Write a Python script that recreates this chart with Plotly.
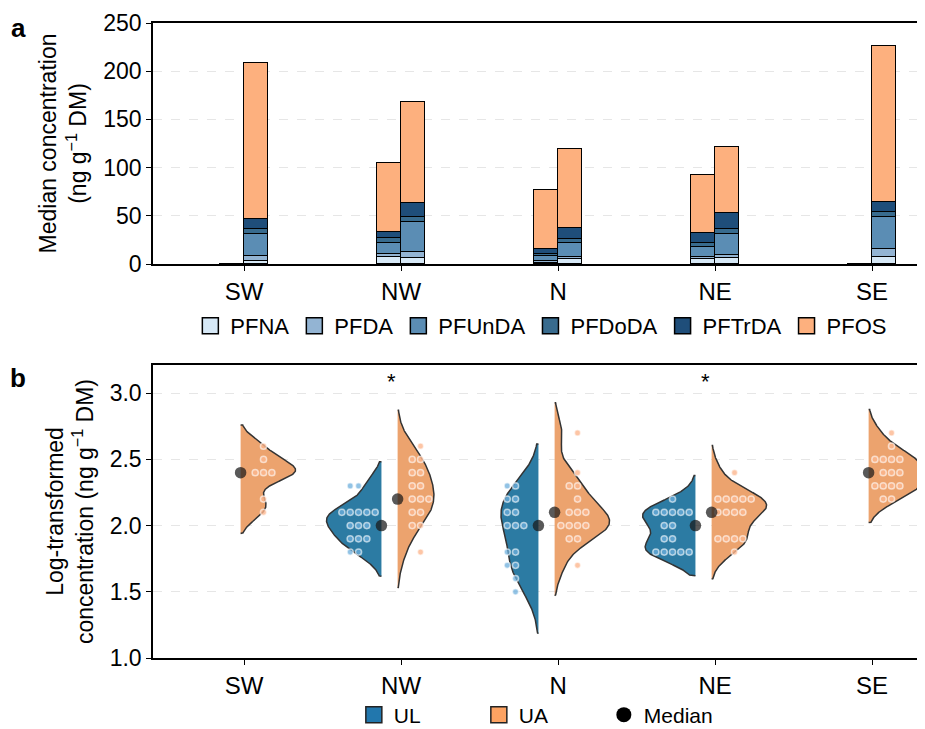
import numpy as np
import plotly.graph_objects as go

# ---------------- data ----------------
regions = ["SW", "NW", "N", "NE", "SE"]
compounds = ["PFNA", "PFDA", "PFUnDA", "PFDoDA", "PFTrDA", "PFOS"]

# Panel a: median concentrations (ng g-1 DM), per region
UL_PFNA = [0, 6.9, 1.5, 4.9, 0]
UL_PFDA = [0, 3.1, 1.5, 2.7, 0]
UL_PFUnDA = [0, 12.1, 5.0, 10.4, 0]
UL_PFDoDA = [0, 4.5, 2.5, 4.1, 0]
UL_PFTrDA = [0, 6.6, 4.7, 9.7, 0]
UL_PFOS = [0, 71.9, 61.6, 60.5, 0]

UA_PFNA = [3.4, 5.9, 5.2, 5.9, 6.9]
UA_PFDA = [5.2, 6.2, 2.4, 3.4, 9.0]
UA_PFUnDA = [22.5, 31.1, 14.5, 21.5, 32.5]
UA_PFDoDA = [5.2, 5.8, 3.9, 5.5, 5.2]
UA_PFTrDA = [10.4, 14.0, 11.7, 16.3, 11.0]
UA_PFOS = [161.5, 105.4, 81.9, 69.1, 161.9]

# Panel b: log-transformed concentrations
ul_SW = []
ul_NW = [2.3, 2.3, 2.1, 2.1, 2.1, 2.1, 2.1, 2.0, 2.0, 2.0, 1.9, 1.9, 1.9, 1.8, 1.8]
ul_N = [2.3, 2.3, 2.2, 2.2, 2.1, 2.1, 2.0, 2.0, 2.0, 1.8, 1.8, 1.7, 1.7, 1.6, 1.5]
ul_NE = [2.2, 2.1, 2.1, 2.1, 2.1, 2.1, 2.0, 2.0, 1.9, 1.9, 1.8, 1.8, 1.8, 1.8, 1.8]
ul_SE = []

ua_SW = [2.6, 2.5, 2.4, 2.4, 2.4, 2.2, 2.1]
ua_NW = [2.6, 2.5, 2.5, 2.4, 2.4, 2.3, 2.3, 2.2, 2.2, 2.2, 2.1, 2.1, 2.0, 2.0, 1.8]
ua_N = [2.7, 2.4, 2.3, 2.3, 2.2, 2.1, 2.1, 2.1, 2.0, 2.0, 2.0, 2.0, 1.9, 1.9, 1.7]
ua_NE = [2.4, 2.2, 2.2, 2.2, 2.2, 2.2, 2.1, 2.1, 2.1, 2.1, 1.9, 1.9, 1.9, 1.9, 1.8]
ua_SE = [2.7, 2.6, 2.5, 2.5, 2.5, 2.5, 2.4, 2.4, 2.4, 2.3, 2.3, 2.3, 2.3, 2.2, 2.2]

significance = ["", "*", "", "*", ""]

# ---------------- styles ----------------
FONT = "Liberation Sans, Arial, sans-serif"
comp_colors = ["#d6e8f6", "#93b4d3", "#5b8db4", "#386b8e", "#1f4e7a", "#fdb07e"]
UL_VIOLIN = "#2c7ba3"
UA_VIOLIN = "#eca36e"
UL_LEG = "#2277ad"
UA_LEG = "#fca262"

UL_vals = [UL_PFNA, UL_PFDA, UL_PFUnDA, UL_PFDoDA, UL_PFTrDA, UL_PFOS]
UA_vals = [UA_PFNA, UA_PFDA, UA_PFUnDA, UA_PFDoDA, UA_PFTrDA, UA_PFOS]
ul_groups = [ul_SW, ul_NW, ul_N, ul_NE, ul_SE]
ua_groups = [ua_SW, ua_NW, ua_N, ua_NE, ua_SE]

idx = np.arange(len(regions))
BW = 0.153  # bar width

fig = go.Figure()

# ---------------- panel a ----------------
for k, comp in enumerate(compounds):
    fig.add_trace(go.Bar(
        x=idx - BW / 2, y=UL_vals[k], width=BW, name=comp,
        marker=dict(color=comp_colors[k], line=dict(color="black", width=1.5)),
        legendgroup=comp, showlegend=False, xaxis="x", yaxis="y",
        hovertemplate=comp + " UL: %{y}<extra></extra>"))
    fig.add_trace(go.Bar(
        x=idx + BW / 2, y=UA_vals[k], width=BW, name=comp,
        marker=dict(color=comp_colors[k], line=dict(color="black", width=1.5)),
        legendgroup=comp, showlegend=False, xaxis="x", yaxis="y",
        hovertemplate=comp + " UA: %{y}<extra></extra>"))
    # legend swatch
    fig.add_trace(go.Scatter(
        x=[None], y=[None], mode="markers", name=comp, legendgroup=comp,
        marker=dict(symbol="square", size=18, color=comp_colors[k],
                    line=dict(color="black", width=1.5)),
        legend="legend", xaxis="x", yaxis="y"))


# ---------------- panel b ----------------
def kde(vals):
    v = np.asarray(vals, dtype=float)
    n = len(v)
    sd = v.std(ddof=1)
    q1, q3 = np.percentile(v, [25, 75])
    a = min(sd, (q3 - q1) / 1.349) if (q3 - q1) > 0 else sd
    bw = 1.059 * a * n ** (-0.2)
    ys = np.linspace(v.min() - 2 * bw, v.max() + 2 * bw, 300)
    d = np.exp(-0.5 * ((ys[:, None] - v[None, :]) / bw) ** 2).sum(axis=1) / (n * bw * np.sqrt(2 * np.pi))
    return ys, d


HALF_W = 0.35
UL_EDGE = -0.125
UA_EDGE = -0.022
UL_DOTC = -0.271
UA_DOTC = 0.124
DOT_STEP = 0.053


def dot_positions(vals, center):
    xs, ys = [], []
    for val in sorted(set(vals), reverse=True):
        cnt = vals.count(val)
        for kk in range(cnt):
            xs.append(center + (kk - cnt // 2) * DOT_STEP)
            ys.append(val)
    return xs, ys


for i, reg in enumerate(regions):
    groups = [(ul_groups[i], -1, UL_EDGE, UL_DOTC, UL_VIOLIN,
               "rgba(110,175,220,0.75)", "UL"),
              (ua_groups[i], 1, UA_EDGE, UA_DOTC, UA_VIOLIN,
               "rgba(253,182,142,0.8)", "UA")]
    kdes = [kde(g[0]) if len(g[0]) > 1 else None for g in groups]
    dmax = max(k_[1].max() for k_ in kdes if k_ is not None)
    for (vals, sgn, edge, dotc, vcol, dcol, lab), kd in zip(groups, kdes):
        if kd is None:
            continue
        ys, d = kd
        e = i + edge
        xs = e + sgn * HALF_W * d / dmax
        px = np.concatenate([[e], xs, [e]])
        py = np.concatenate([[ys[0]], ys, [ys[-1]]])
        fig.add_trace(go.Scatter(
            x=px, y=py, mode="lines", fill="toself", fillcolor=vcol,
            line=dict(color="#333333", width=1.5), showlegend=False,
            hoverinfo="skip", xaxis="x2", yaxis="y2"))
        dx, dy = dot_positions(vals, i + dotc)
        fig.add_trace(go.Scatter(
            x=dx, y=dy, mode="markers", showlegend=False,
            marker=dict(size=6.2, color=dcol, line=dict(color="rgba(255,255,255,0.6)", width=1.5)),
            xaxis="x2", yaxis="y2", hovertemplate=lab + ": %{y}<extra></extra>"))
        fig.add_trace(go.Scatter(
            x=[e], y=[float(np.median(vals))], mode="markers", showlegend=False,
            marker=dict(size=11.5, color="rgba(25,25,25,0.72)"),
            xaxis="x2", yaxis="y2", hovertemplate="Median: %{y}<extra></extra>"))

# significance stars
for i, s in enumerate(significance):
    if s:
        fig.add_annotation(x=i - 0.06, y=3.085, xref="x2", yref="y2", text=s,
                           showarrow=False, font=dict(size=22, color="black", family=FONT))

# legend 2 entries
fig.add_trace(go.Scatter(x=[None], y=[None], name="UL", mode="markers",
                         marker=dict(symbol="square", size=18, color=UL_LEG, line=dict(color="#222", width=1.5)),
                         legend="legend2", xaxis="x2", yaxis="y2"))
fig.add_trace(go.Scatter(x=[None], y=[None], name="UA", mode="markers",
                         marker=dict(symbol="square", size=18, color=UA_LEG, line=dict(color="#222", width=1.5)),
                         legend="legend2", xaxis="x2", yaxis="y2"))
fig.add_trace(go.Scatter(x=[None], y=[None], name="Median", mode="markers",
                         marker=dict(size=15, color="black"), legend="legend2", xaxis="x2", yaxis="y2"))

# ---------------- layout ----------------
# the page adds an 8 px body margin; figure is sized/positioned to compensate
OFF = 8
W = 925 - OFF
H = 729 - OFF


def fy(py):
    return 1 - (py - OFF) / H


xr = [-0.58, 4.318]
axis_common = dict(showline=True, linecolor="black", linewidth=1.5, mirror=True,
                   ticks="outside", ticklen=5, tickwidth=1.3, tickcolor="black",
                   zeroline=False, automargin=False)
xa = dict(axis_common, range=xr, tickmode="array", tickvals=list(idx), ticktext=regions,
          tickfont=dict(size=24, color="black", family=FONT), showgrid=False)
fig.update_layout(
    width=W, height=H,
    margin=dict(l=153 - OFF, r=3, t=0, b=0, autoexpand=False),
    paper_bgcolor="white", plot_bgcolor="white",
    font=dict(family=FONT, color="black"),
    barmode="stack", bargap=0,
    xaxis=dict(xa, domain=[0, 1], anchor="y"),
    xaxis2=dict(xa, domain=[0, 1], anchor="y2"),
    yaxis=dict(axis_common, domain=[fy(264), fy(23)], range=[0, 250],
               tickvals=[0, 50, 100, 150, 200, 250],
               tickfont=dict(size=23, color="black", family=FONT),
               showgrid=True, gridcolor="#e6e6e6", griddash="dash", gridwidth=1.2,
               title=dict(text="Median concentration<br>(ng g<sup>−1</sup> DM)",
                          font=dict(size=23, color="black", family=FONT), standoff=10)),
    yaxis2=dict(axis_common, domain=[fy(658), fy(365)], range=[1.0, 3.213],
                tickvals=[1.0, 1.5, 2.0, 2.5, 3.0], tickformat=".1f",
                tickfont=dict(size=23, color="black", family=FONT),
                showgrid=True, gridcolor="#e6e6e6", griddash="dash", gridwidth=1.2,
                title=dict(text="Log-transformed<br>concentration (ng g<sup>−1</sup> DM)",
                           font=dict(size=23, color="black", family=FONT), standoff=10)),
    legend=dict(orientation="h", x=0.505, xanchor="center", y=fy(326), yanchor="middle",
                font=dict(size=22, color="black", family=FONT), traceorder="normal",
                bgcolor="rgba(0,0,0,0)", itemwidth=30),
    legend2=dict(orientation="h", x=0.505, xanchor="center", y=fy(715), yanchor="middle",
                 font=dict(size=21, color="black", family=FONT), traceorder="normal",
                 bgcolor="rgba(0,0,0,0)", itemwidth=30, entrywidth=80, entrywidthmode="pixels"),
    showlegend=True,
)

fig.add_annotation(x=(18 - 153) / (W - 148), y=fy(28), xref="paper", yref="paper", text="<b>a</b>",
                   showarrow=False, xanchor="center", yanchor="middle",
                   font=dict(size=26, family=FONT, color="black"))
fig.add_annotation(x=(18 - 153) / (W - 148), y=fy(378), xref="paper", yref="paper", text="<b>b</b>",
                   showarrow=False, xanchor="center", yanchor="middle",
                   font=dict(size=26, family=FONT, color="black"))

fig.write_html("out.html")
